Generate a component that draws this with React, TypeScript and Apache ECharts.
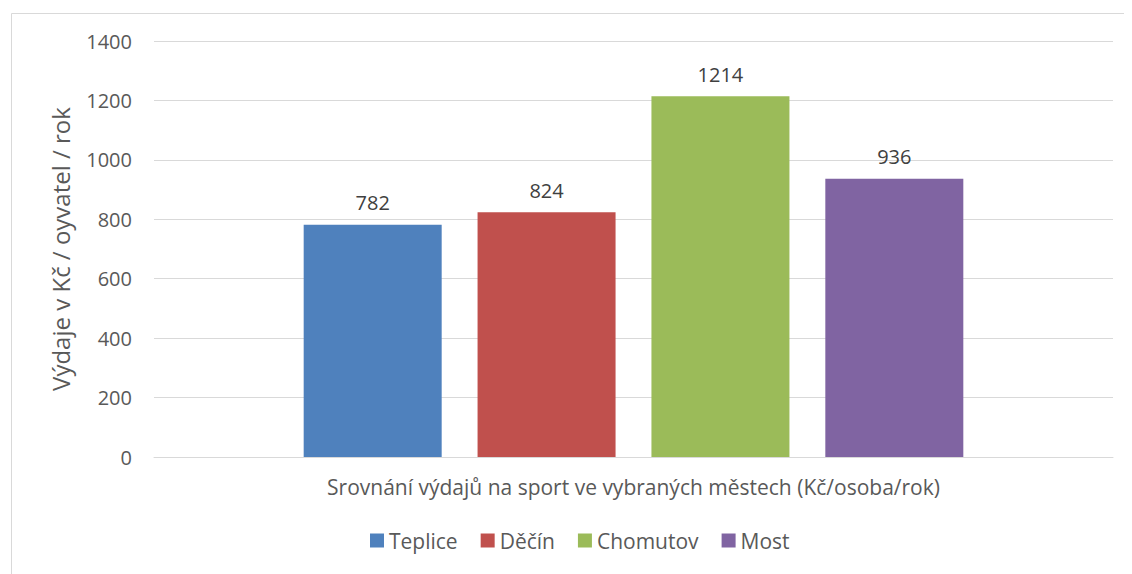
import React, { useEffect, useRef } from "react";
import * as echarts from "echarts";

const category = ["Srovnání výdajů na sport ve vybraných městech (Kč/osoba/rok)"];
const cities = ["Teplice", "Děčín", "Chomutov", "Most"];
const values = [782, 824, 1214, 936];
const colors = ["#4F81BD", "#C0504D", "#9BBB59", "#8064A2"];
const yAxisName = "Výdaje v Kč / oyvatel / rok";

const FONT = "'Open Sans', 'Noto Sans', sans-serif";
const TEXT = "#595959";

export default function App() {
  const ref = useRef<HTMLDivElement>(null);
  useEffect(() => {
    if (!ref.current) return;
    const chart = echarts.init(ref.current, undefined, { renderer: "svg" });
    chart.setOption({
      animation: false,
      textStyle: { fontFamily: FONT },
      graphic: [
        {
          type: "rect",
          left: 1,
          top: 3,
          shape: { width: 1200, height: 700 },
          style: { fill: "none", stroke: "#d9d9d9", lineWidth: 1 },
          silent: true,
        },
      ],
      legend: {
        data: cities,
        left: 362,
        top: 522,
        padding: 0,
        itemWidth: 14,
        itemHeight: 14,
        itemGap: 23,
        icon: "rect",
        textStyle: { fontSize: 21, color: TEXT, fontFamily: FONT },
      },
      grid: { left: 146, top: 33, right: 19, bottom: 117 },
      xAxis: {
        type: "category",
        data: category,
        axisLine: { lineStyle: { color: "#d9d9d9", width: 1 } },
        axisTick: { show: false },
        axisLabel: { fontSize: 21, color: TEXT, margin: 19, fontFamily: FONT },
      },
      yAxis: {
        type: "value",
        min: 0,
        max: 1400,
        interval: 200,
        name: yAxisName,
        nameLocation: "middle",
        nameGap: 82,
        nameTextStyle: { fontSize: 24, color: TEXT, fontFamily: FONT },
        axisLine: { show: false },
        axisTick: { show: false },
        axisLabel: {
          fontSize: 20,
          color: TEXT,
          margin: 22,
          fontFamily: FONT,
          formatter: (v: number) => String(v),
        },
        splitLine: { lineStyle: { color: "#d9d9d9", width: 1 } },
      },
      series: cities.map((c, i) => ({
        name: c,
        type: "bar",
        data: [values[i]],
        barWidth: 138,
        barGap: "26%",
        itemStyle: { color: colors[i] },
        label: {
          show: true,
          position: "top",
          distance: 12,
          fontSize: 20,
          color: "#404040",
          fontFamily: FONT,
        },
      })),
    });
    return () => chart.dispose();
  }, []);
  return <div ref={ref} style={{ width: 1124, height: 566 }} />;
}
